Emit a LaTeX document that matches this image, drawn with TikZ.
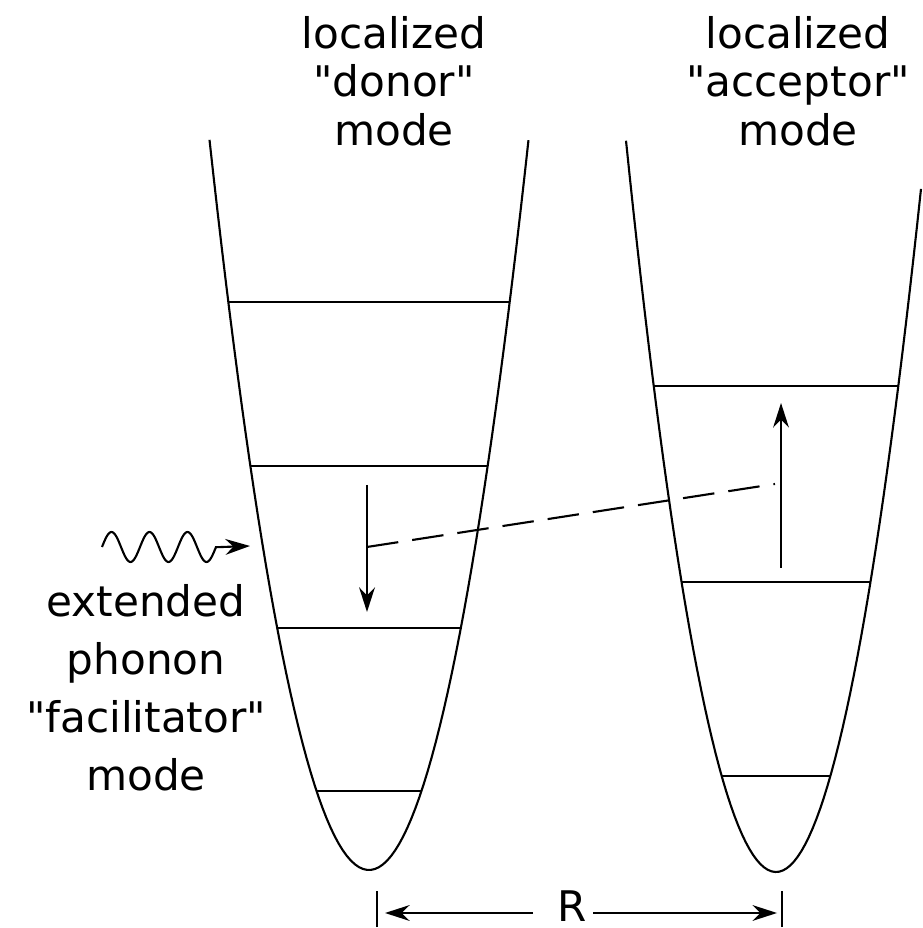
\documentclass[tikz,border=0pt]{standalone}
\usepackage{fontspec}
\setmainfont{DejaVu Sans}
\usetikzlibrary{arrows.meta}

\begin{document}
\begin{tikzpicture}[x=1cm,y=1cm,line width=0.6pt,
  modelabel/.style={align=center,inner sep=0pt,font=\fontsize{12}{13.8}\selectfont},
  arr/.style={-{Stealth[length=7pt,width=4.5pt]}}]
\useasboundingbox (0,0) rectangle (9.22,9.28);
\draw[domain=-1.595:1.595,samples=80] plot ({3.69+\x},{0.58+2.87*\x*\x});
\draw[domain=-1.50:1.45,samples=80] plot ({7.76+\x},{0.56+3.25*\x*\x});
\foreach \lv in {6.26,4.62,3.00,1.37} {
  \pgfmathsetmacro{\hw}{sqrt((\lv-0.58)/2.87)}
  \draw (3.69-\hw,\lv) -- (3.69+\hw,\lv);
}
\foreach \lv in {5.42,3.46,1.52} {
  \pgfmathsetmacro{\hw}{sqrt((\lv-0.56)/3.25)}
  \draw (7.76-\hw,\lv) -- (7.76+\hw,\lv);
}
\node[modelabel,anchor=north] (donor) at (3.94,9.13)
  {localized\\\textquotedbl donor\textquotedbl\\mode};
\node[modelabel,anchor=north] (acceptor) at (7.98,9.13)
  {localized\\\textquotedbl acceptor\textquotedbl\\mode};
\node[modelabel,anchor=north,font=\fontsize{12}{16.5}\selectfont] (facil) at (1.46,3.45)
  {extended\\phonon\\\textquotedbl facilitator\textquotedbl\\mode};
\coordinate (downTop) at (3.67,4.43);
\coordinate (downTip) at (3.67,3.16);
\coordinate (upFoot) at (7.81,3.60);
\coordinate (upTip) at (7.81,5.25);
\coordinate (dashA) at (3.67,3.81);
\coordinate (dashB) at (7.75,4.44);
\draw[arr] (downTop) -- (downTip);
\draw[arr] (upFoot) -- (upTip);
\draw[dash pattern=on 9pt off 4pt] (dashA) -- (dashB);
\coordinate (waveTip) at (2.50,3.82);
\draw[arr,domain=0:1.14,samples=100] plot ({1.02+\x},{3.81+0.15*sin(\x/0.38*360)}) -- (waveTip);
\node[font=\fontsize{12}{14}\selectfont,inner sep=0pt,anchor=base] (R) at (5.72,0.06) {R};
\coordinate (barL) at (3.77,0.15);
\coordinate (barR) at (7.82,0.15);
\coordinate (leftStart) at (5.33,0.15);
\coordinate (rightStart) at (5.93,0.15);
\draw (3.77,0.01) -- (3.77,0.37);
\draw (7.82,0.01) -- (7.82,0.37);
\draw[arr] (leftStart) -- ([xshift=0.08cm]barL);
\draw[arr] (rightStart) -- ([xshift=-0.05cm]barR);
\end{tikzpicture}
\end{document}
